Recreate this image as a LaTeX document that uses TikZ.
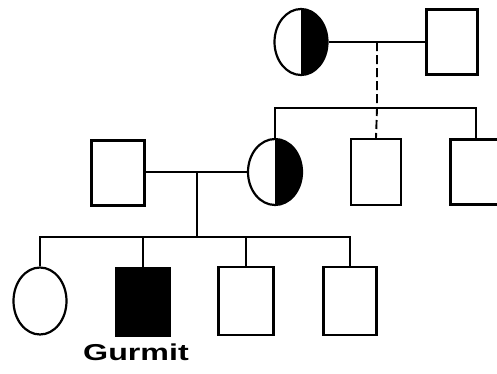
\documentclass[tikz,border=0pt]{standalone}
\usepackage{fontspec}
\usetikzlibrary{positioning,shapes.geometric}
\newfontfamily\pedfont{Liberation Sans}

\tikzset{
  male/.style={draw,rectangle,line width=2.2pt,minimum width=51pt,minimum height=65pt,inner sep=0pt},
  female/.style={draw,ellipse,line width=2.2pt,minimum width=53pt,minimum height=66pt,inner sep=0pt},
  affected/.style={fill=black},
  carrier/.style={path picture={\fill[black] (path picture bounding box.north) rectangle (path picture bounding box.south east);}},
  link/.style={line width=1.9pt},
}

\begin{document}
\begin{tikzpicture}[x=1pt,y=-1pt]
  \useasboundingbox (0,0) rectangle (497,373);
  % Generation I
  \node[female,carrier] (gma) at (301,42) {};
  \node[male] (gpa) at (452,42) {};
  \draw[link] (gma) -- (gpa);
  \coordinate (m1) at (377,42);
  \coordinate (s1) at (377,108);
  % Generation II
  \node[female,carrier,minimum width=54pt] (mum) at (275,172) {};
  \node[male,minimum width=50pt,minimum height=66pt] (unc1) at (376,172) {};
  \node[male] (unc2) at (476,172) {};
  \node[male,minimum width=53pt] (dad) at (118,173) {};
  \draw[link] (mum.north) |- (s1) -| (unc2.north);
  \draw[link,dash pattern=on 9pt off 4pt] (m1) -- (s1) -- (unc1.north);
  \draw[link] (dad.east |- mum) -- (mum);
  \coordinate (m2) at (197,172);
  \coordinate (s2) at (197,237);
  % Generation III
  \node[female,minimum height=67pt] (sis) at (40,301) {};
  \node[male,affected,minimum width=54pt,minimum height=68pt] (gurmit) at (143,302) {};
  \node[male,minimum width=55pt,minimum height=68pt] (bro1) at (246,301) {};
  \node[male,minimum width=53pt,minimum height=68pt] (bro2) at (350,301) {};
  \draw[link] (m2) -- (s2);
  \draw[link] (sis.north) |- (s2) -| (bro2.north);
  \draw[link] (gurmit.north) -- (gurmit.north |- s2);
  \draw[link] (bro1.north) -- (bro1.north |- s2);
  \node[font=\pedfont\bfseries\fontsize{23}{23}\selectfont] (lbl) at (136,352) {\scalebox{1.4}[1]{Gurmit}};
\end{tikzpicture}
\end{document}
